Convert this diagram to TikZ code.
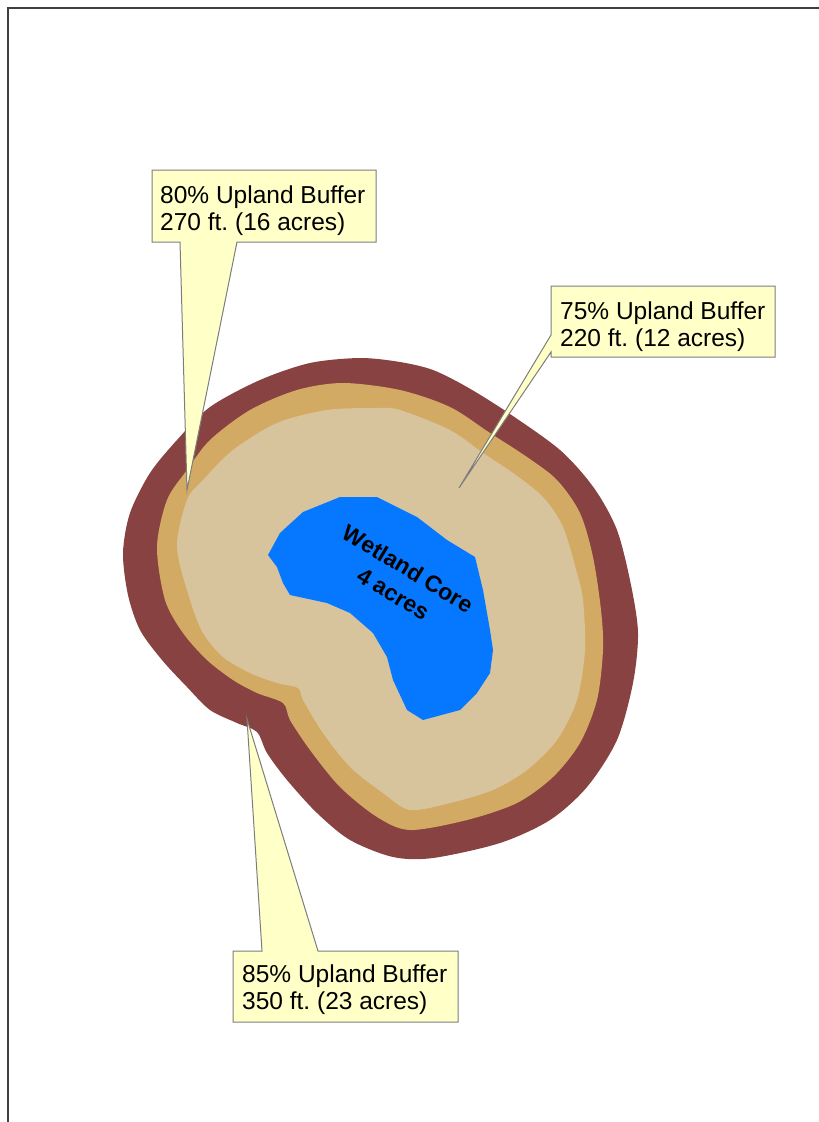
\documentclass[tikz,border=0pt]{standalone}
\usepackage{fontspec}
\setmainfont{Liberation Sans}
\frenchspacing
\definecolor{maroonband}{RGB}{137,66,66}
\definecolor{goldband}{RGB}{210,170,100}
\definecolor{tancore}{RGB}{216,196,156}
\definecolor{wetblue}{RGB}{5,120,255}
\definecolor{calloutfill}{RGB}{255,255,200}
\definecolor{calloutline}{RGB}{125,125,125}
\definecolor{framegray}{RGB}{64,64,64}
\tikzset{
  callout/.style={fill=calloutfill, draw=calloutline, line width=1pt, line join=miter},
  lbl/.style={anchor=north west, inner sep=0pt, align=left, text=black,
    font=\fontsize{24.5}{26.5}\selectfont},
  corelbl/.style={inner sep=0pt, align=center, text=black, rotate=-31,
    font=\fontsize{23}{29}\selectfont\bfseries},
  frameline/.style={draw=framegray, line width=2pt}
}
\begin{document}
\begin{tikzpicture}[x=1pt,y=-1pt]
\useasboundingbox (0,0) rectangle (819,1122);
% frame
\draw[frameline] (7.5,1122) -- (7.5,7.5) -- (819,7.5);
% outer maroon buffer
\fill[maroonband] plot[smooth cycle, tension=0.5] coordinates {
 (123,553) (128,595) (140,630) (162,660) (187,687) (210,710) (237,723) (257,732)
 (267,753) (287,780) (317,813) (350,840) (393,857) (433,858) (500,843) (550,820)
 (587,787) (617,740) (633,683) (638,633) (631,585) (617,530) (594,488) (560,450)
 (507,412) (467,387) (433,370) (400,362) (360,358) (310,363) (260,380) (210,407)
 (177,440) (150,473) (130,513)};
% middle gold buffer
\fill[goldband] plot[smooth cycle, tension=0.5] coordinates {
 (157,547) (165,600) (183,633) (207,660) (233,680) (257,693) (283,703) (290,720)
 (310,750) (340,787) (377,817) (410,830) (467,820) (517,803) (553,777) (580,743)
 (597,700) (603,650) (601,610) (593,557) (580,513) (557,480) (527,457) (490,433)
 (450,407) (400,390) (343,383) (297,390) (250,410) (210,440) (187,470) (167,500)};
% inner tan buffer
\fill[tancore] plot[smooth cycle, tension=0.5] coordinates {
 (177,547) (190,600) (203,633) (223,657) (250,673) (277,683) (298,688) (303,700)
 (323,733) (350,767) (383,793) (410,810) (450,803) (493,790) (527,770) (557,740)
 (577,700) (585,650) (583,600) (577,573) (563,527) (543,497) (513,473) (483,453)
 (450,430) (400,410) (377,408) (327,410) (277,423) (233,450) (203,480) (187,500)};
% wetland core
\fill[wetblue] (268,555) -- (280,533) -- (303,512) -- (340,497) -- (377,497)
 -- (417,517) -- (447,540) -- (475,557) -- (483,590) -- (490,630) -- (493,650)
 -- (490,673) -- (477,693) -- (460,710) -- (423,720) -- (407,710) -- (393,680)
 -- (387,657) -- (373,633) -- (350,613) -- (327,603) -- (290,595) -- (283,583)
 -- (277,567) -- cycle;
\node[corelbl] (core) at (401,581) {Wetland Core\\4 acres};
% callouts
\draw[callout] (152,170) -- (376,170) -- (376,242) -- (237,242) -- (187,490)
 -- (180,242) -- (152,242) -- cycle;
\node[lbl] (c80) at (160,186) {80\% Upland Buffer\\270 ft. (16 acres)};
\draw[callout] (551,286) -- (775,286) -- (775,357) -- (551,357) -- (551,352)
 -- (459,488) -- (551,335) -- cycle;
\node[lbl] (c75) at (560,302) {75\% Upland Buffer\\220 ft. (12 acres)};
\draw[callout] (233,951) -- (262,951) -- (247,719) -- (318,951) -- (458,951)
 -- (458,1022) -- (233,1022) -- cycle;
\node[lbl] (c85) at (242,965) {85\% Upland Buffer\\350 ft. (23 acres)};
\end{tikzpicture}
\end{document}
